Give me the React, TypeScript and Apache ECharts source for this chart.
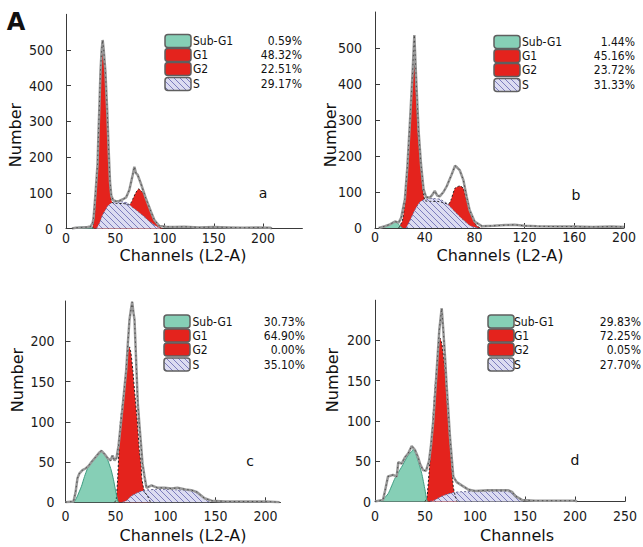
import React, { useEffect, useRef } from 'react';
import * as echarts from 'echarts';

// ---------- data ----------
const legendNames = ['Sub-G1', 'G1', 'G2', 'S'];
const pctA = ['0.59%', '48.32%', '22.51%', '29.17%'];
const pctB = ['1.44%', '45.16%', '23.72%', '31.33%'];
const pctC = ['30.73%', '64.90%', '0.00%', '35.10%'];
const pctD = ['29.83%', '72.25%', '0.05%', '27.70%'];

const yTicksAB = [0, 100, 200, 300, 400, 500];
const yTicksCD = [0, 50, 100, 150, 200];
const xTicksA = [0, 50, 100, 150, 200];
const xTicksB = [0, 40, 80, 120, 160, 200];
const xTicksC = [0, 50, 100, 150, 200];
const xTicksD = [0, 50, 100, 150, 200, 250];

// panel a
const outlineA = [[6,0],[10,2],[16,3],[22,4],[25,6],[27,15],[28,30],[30,100],[32,180],[33,270],[34,350],[35,440],[36.2,500],[37.2,528],[38.3,500],[40,440],[41,380],[42,320],[43.3,220],[44.7,130],[46,92],[48,79],[51,76],[54,77],[58,82],[61,87],[64.3,108],[67.7,150],[69.4,173],[71,155],[72.8,150],[76,126],[81,85],[86.3,47],[89.7,24],[94.8,7],[101.5,5],[110,4],[120,5],[135,3],[150,4],[165,3],[180,2],[195,3],[207,2],[209,0]];
const modelA = [[27,0],[29,40],[30,90],[32,164],[33,257],[34,330],[35,420],[36.2,480],[37.2,495],[38.5,470],[40,420],[41,370],[42,310],[43.3,210],[44.7,117],[46,80],[48,70],[52,70],[58,70],[62,68],[64,66],[66,72],[67.7,82],[71,101],[73.8,111],[77.8,101],[81,85],[84.6,57],[88,33],[91.4,15],[94.8,6],[98,0]];
const sPhaseA = [[31,0],[34,15],[37,37],[40,52],[42.3,63],[45.7,71],[50.8,75],[57.5,75],[62.6,71],[67.7,59],[72,50],[77.8,37],[83,24],[88,13],[93,4],[96,0]];
const subG1A = [[9,0],[12,3],[17,4],[22,4],[26,2],[28,0]];

// panel b
const outlineB = [[3,0],[8,5],[12,10],[16,18],[19,15],[21,28],[24,80],[26,170],[28,290],[30,420],[31.6,536],[33,420],[35,270],[37,175],[39,108],[41,86],[44,84],[46,92],[48,103],[50,90],[52,88],[55,100],[57.6,116],[61.6,149],[64.3,173],[66,168],[68,161],[71,133],[73.6,87],[76,50],[80,18],[86,5],[95,6],[105,8],[112,9],[120,6],[130,5],[145,4],[160,4],[175,3],[190,4],[200,3]];
const modelB = [[19,0],[22,20],[24,69],[26,160],[28,280],[30,400],[31.6,457],[33,380],[34.8,254],[37,161],[38.8,96],[40.2,76],[44,74],[50,74],[55,70],[59,66],[61,78],[64.3,111],[68.3,117],[71,110],[73.6,78],[76.3,45],[79,22],[81.7,6],[84.3,1],[86,0]];
const sPhaseB = [[25,0],[28,20],[32,50],[36,72],[40,80],[46,82],[52,80],[57.6,69],[61,57],[64.3,45],[68,32],[71,22],[75,10],[78,4],[82,0]];
const subG1B = [[3,0],[8,4],[12,9],[16,17],[18,14],[20,6],[22,0]];

// panel c
const outlineC = [[0,0],[8,1],[10,12],[12,30],[14,36],[17,40],[20,42],[23,45],[26,50],[30,56],[34,62],[36,64],[39,60],[42,55],[45,52],[47,58],[49,52],[51,55],[53,70],[55.7,102],[58,130],[60.7,164],[62.5,200],[64,227],[65.5,240],[66.7,249],[68,235],[69,227],[70.5,180],[72.3,123],[74,95],[75.7,69],[77,48],[79,32],[81,18],[86,21],[92,18],[99,18],[106,17],[112,18],[120,16],[126,15],[131,13],[135,9],[139,5],[146,2],[160,1],[180,1],[200,1],[214,0]];
const modelC = [[49,0],[50.7,3],[52.3,32],[53.3,61],[55,102],[57.3,125],[60,158],[61.7,181],[64,193],[65.5,185],[67.3,164],[69.5,132],[71.7,102],[74,63],[75.7,45],[76.3,30],[78,18],[79,13],[82,8],[85,0]];
const sPhaseC = [[57,0],[62,3],[66,8],[72,12],[79,15],[90,16],[100,16],[110,15.5],[120,15],[127,14],[132,11],[136,8],[140,4],[143,1],[145,0]];
const subG1C = [[5,0],[9,1],[12,8],[16,20],[19,32],[22,42],[25.7,50],[30,57],[34,62],[36,63],[38,61],[40.7,57],[43,50],[45.7,40],[48,28],[50,15],[52,3],[53,0]];

// panel d
const outlineD = [[0,0],[8,2],[10,13],[13,31],[18,33],[21.7,31],[23.3,49],[26.7,47],[30,55],[33.3,60],[36.7,69],[40,64],[43,55],[45,47],[48,39],[51,38],[54,50],[56,70],[58.3,101],[61.7,163],[64.3,213],[66.7,240],[68.3,213],[70,180],[71.7,143],[75,80],[78.3,31],[81.7,24],[86.7,20],[93,15],[100,13],[113,14],[127,14],[133,14],[137,12],[140,7],[147,2],[160,1],[200,1],[202,0]];
const modelD = [[50,0],[52,5],[54,35],[56.7,80],[60,143],[63.3,188],[65,203],[67,195],[70,163],[73.3,101],[75,72],[76.7,43],[78.3,18],[80,8],[82,0]];
const sPhaseD = [[55,0],[60,2],[66,6],[72,9],[78,11],[85,12],[100,12.5],[120,12.5],[135,12],[140,9],[144,4],[148,0]];
const subG1D = [[5,0],[6.7,0.5],[13.3,10],[20,29],[26.7,43],[33.3,58],[36.7,62],[38.3,65],[41.7,56],[46.7,35],[50,14.5],[51.7,2],[53,0]];

// ---------- layout ----------
const panels = [
  { grid: { left: 66, top: 14.3, width: 236.4, height: 214.2 }, xMax: 240, xInt: 50, yMax: 600, yInt: 100, xTicks: xTicksA, yTicks: yTicksAB, xMargin: 2, yMargin: 13,
    leg: { boxX: 165, boxY: 34.5, textX: 193, pctX: 302 }, pct: pctA, numPos: [15, 135], chanPos: [183, 255], chanText: 'Channels (L2-A)', letter: 'a', letterPos: [263, 193],
    outline: outlineA, model: modelA, sPhase: sPhaseA, subG1: subG1A },
  { grid: { left: 375, top: 12, width: 249, height: 216 }, xMax: 200, xInt: 40, yMax: 600, yInt: 100, xTicks: xTicksB, yTicks: yTicksAB, xMargin: 2, yMargin: 13,
    leg: { boxX: 494, boxY: 35.5, textX: 522, pctX: 635 }, pct: pctB, numPos: [330, 135], chanPos: [500, 255], chanText: 'Channels (L2-A)', letter: 'b', letterPos: [576, 195],
    outline: outlineB, model: modelB, sPhase: sPhaseB, subG1: subG1B },
  { grid: { left: 65.5, top: 301, width: 215, height: 201.3 }, xMax: 215, xInt: 50, yMax: 250, yInt: 50, xTicks: xTicksC, yTicks: yTicksCD, xMargin: 7, yMargin: 11,
    leg: { boxX: 164, boxY: 315, textX: 192.5, pctX: 305 }, pct: pctC, numPos: [17, 380], chanPos: [183, 535], chanText: 'Channels (L2-A)', letter: 'c', letterPos: [250, 461],
    outline: outlineC, model: modelC, sPhase: sPhaseC, subG1: subG1C },
  { grid: { left: 375, top: 300.2, width: 250, height: 201.3 }, xMax: 250, xInt: 50, yMax: 250, yInt: 50, xTicks: xTicksD, yTicks: yTicksCD, xMargin: 7, yMargin: 4,
    leg: { boxX: 488, boxY: 315, textX: 514, pctX: 641 }, pct: pctD, numPos: [332, 380], chanPos: [517, 535], chanText: 'Channels', letter: 'd', letterPos: [575, 460],
    outline: outlineD, model: modelD, sPhase: sPhaseD, subG1: subG1D },
];

const rowOffsets = [0, 14, 28, 43];
const FONT = '"DejaVu Sans", sans-serif';
const CFONT = '"DejaVu Sans Condensed", "DejaVu Sans", sans-serif';
const RED = '#e4231d';
const TEAL = '#86cfb6';

function makeHatch(): HTMLCanvasElement {
  const c = document.createElement('canvas');
  c.width = 6; c.height = 6;
  const ctx = c.getContext('2d')!;
  ctx.fillStyle = '#dcdcf1';
  ctx.fillRect(0, 0, 6, 6);
  ctx.strokeStyle = '#7d7dbd';
  ctx.lineWidth = 1;
  ctx.beginPath();
  for (let i = -6; i <= 6; i += 6) { ctx.moveTo(i, 0); ctx.lineTo(i + 6, 6); }
  ctx.stroke();
  return c;
}

function txt(x: number, y: number, text: string, font: string, align: string, extra: any = {}, lineHeight?: number) {
  const style: any = { text, font, fill: '#111', align, verticalAlign: 'middle', textAlign: align, textVerticalAlign: 'middle' };
  if (lineHeight) style.lineHeight = lineHeight;
  return { type: 'text', x, y, silent: true, ...extra, style };
}

export default function App() {
  const ref = useRef<HTMLDivElement>(null);
  useEffect(() => {
    if (!ref.current) return;
    const chart = echarts.init(ref.current, undefined, { renderer: 'svg' });
    const hatch = { image: makeHatch(), repeat: 'repeat' };

    const series: any[] = [];
    const graphics: any[] = [];
    panels.forEach((p, i) => {
      const base = { type: 'line', xAxisIndex: i, yAxisIndex: i, symbol: 'none', silent: true, smooth: 0.15 };
      series.push({ ...base, data: p.model, lineStyle: { color: '#222', width: 1, type: [2, 2] }, areaStyle: { color: RED, opacity: 1 } });
      series.push({ ...base, data: p.sPhase, lineStyle: { color: '#6a6a94', width: 1, type: [2, 2] }, areaStyle: { color: hatch, opacity: 1 } });
      series.push({ ...base, data: p.subG1, lineStyle: { color: '#3f9c82', width: 1 }, areaStyle: { color: TEAL, opacity: 1 } });
      series.push({ ...base, data: p.outline, smooth: 0, lineStyle: { color: '#999999', width: 2.5 } });
      series.push({ ...base, data: p.outline, smooth: 0, lineStyle: { color: '#333', width: 1, type: [1.5, 3], opacity: 0.75 } });

      const fills = [TEAL, RED, RED, hatch];
      legendNames.forEach((name, k) => {
        const top = p.leg.boxY + rowOffsets[k];
        graphics.push({ type: 'rect', silent: true, shape: { x: p.leg.boxX, y: top, width: 26, height: 13, r: 3 }, style: { fill: fills[k] as any, stroke: '#5f5f5f', lineWidth: 1.5 } });
        graphics.push(txt(p.leg.textX, top + 6.5, name, `12px ${CFONT}`, 'left', {}, 13));
        graphics.push(txt(p.leg.pctX, top + 6.5, p.pct[k], `12px ${CFONT}`, 'right', {}, 13));
      });
      graphics.push(txt(p.numPos[0], p.numPos[1], 'Number', `16px ${FONT}`, 'center', { rotation: Math.PI / 2 }));
      graphics.push(txt(p.chanPos[0], p.chanPos[1], p.chanText, `16px ${FONT}`, 'center'));
      graphics.push(txt(p.letterPos[0], p.letterPos[1], p.letter, `14px ${FONT}`, 'center'));
    });
    graphics.push(txt(16, 22, 'A', `bold 24px ${FONT}`, 'center'));

    const axisColor = '#3a3a3a';
    const option: any = {
      animation: false,
      backgroundColor: '#ffffff',
      grid: panels.map(p => ({ ...p.grid, containLabel: false, outerBoundsMode: 'none' })),
      xAxis: panels.map((p, i) => ({
        type: 'value', gridIndex: i, min: 0, max: p.xMax, interval: p.xInt,
        axisLine: { show: true, onZero: false, lineStyle: { color: axisColor, width: 1 } },
        axisTick: { show: true, inside: true, length: 5, customValues: p.xTicks, lineStyle: { color: axisColor } },
        axisLabel: { customValues: p.xTicks, margin: p.xMargin, fontSize: 14, fontFamily: CFONT, color: '#1a1a1a' },
        splitLine: { show: false },
      })),
      yAxis: panels.map((p, i) => ({
        type: 'value', gridIndex: i, min: 0, max: p.yMax, interval: p.yInt,
        axisLine: { show: true, onZero: false, lineStyle: { color: axisColor, width: 1 } },
        axisTick: { show: true, inside: true, length: 5, customValues: p.yTicks, lineStyle: { color: axisColor } },
        axisLabel: { customValues: p.yTicks, margin: p.yMargin, fontSize: 14, fontFamily: CFONT, color: '#1a1a1a' },
        splitLine: { show: false },
      })),
      series,
      graphic: { elements: graphics },
    };
    chart.setOption(option);
    return () => chart.dispose();
  }, []);
  return <div ref={ref} style={{ position: 'fixed', left: 0, top: 0, width: 643, height: 547, background: '#fff' }} />;
}
